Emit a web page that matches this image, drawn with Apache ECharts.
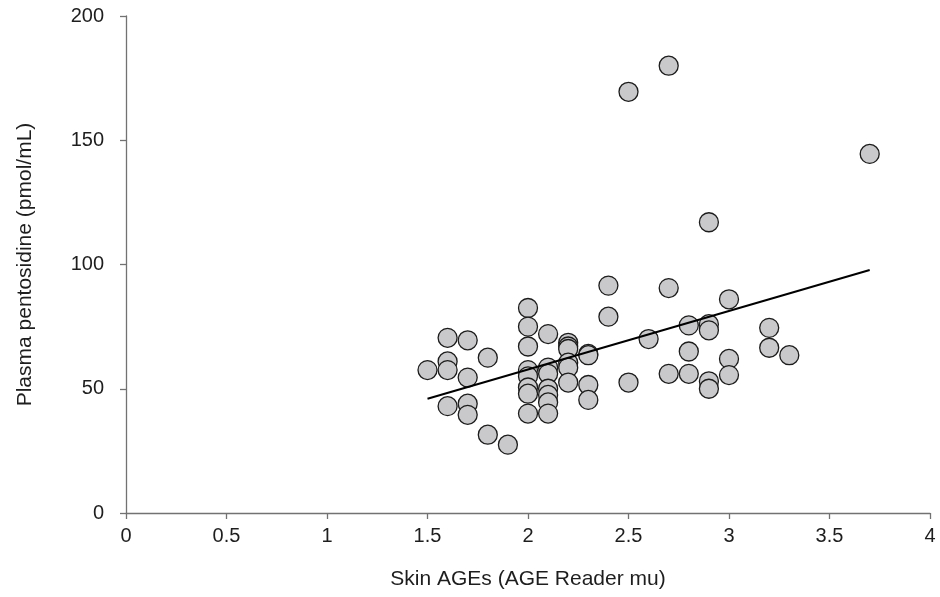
<!DOCTYPE html>
<html>
<head>
<meta charset="utf-8">
<script src="https://cdn.jsdelivr.net/npm/echarts@6/dist/echarts.min.js"></script>
<style>
  html, body { margin: 0; padding: 0; background: #fff; }
  #chart { width: 940px; height: 597px; }
</style>
</head>
<body>
<div id="chart"></div>
<script>
// Skin autofluorescence (AGE Reader units) for each subject
const skinAGEs = [
  1.5,
  1.6, 1.6, 1.6, 1.6,
  1.7, 1.7, 1.7, 1.7,
  1.8, 1.8,
  1.9,
  2.0, 2.0, 2.0, 2.0, 2.0, 2.0, 2.0, 2.0,
  2.1, 2.1, 2.1, 2.1, 2.1, 2.1, 2.1,
  2.2, 2.2, 2.2, 2.2, 2.2, 2.2,
  2.3, 2.3, 2.3, 2.3,
  2.4, 2.4,
  2.5, 2.5,
  2.6,
  2.7, 2.7, 2.7,
  2.8, 2.8, 2.8,
  2.9, 2.9, 2.9, 2.9, 2.9,
  3.0, 3.0, 3.0,
  3.2, 3.2,
  3.3,
  3.7
];

// Plasma pentosidine (pmol/mL) for the same subjects, in the same order
const pentosidine = [
  57.5,
  70.5, 61, 57.5, 43,
  69.5, 54.5, 44, 39.5,
  62.5, 31.5,
  27.5,
  82.5, 75, 67, 57.5, 55, 50.5, 48, 40,
  72, 58.5, 56, 50, 47.5, 44.5, 40,
  68.5, 67, 66, 60.5, 58.5, 52.5,
  64, 63.5, 51.5, 45.5,
  91.5, 79,
  169.5, 52.5,
  70,
  180, 90.5, 56,
  75.5, 65, 56,
  117, 76, 73.5, 53, 50,
  86, 62, 55.5,
  74.5, 66.5,
  63.5,
  144.5
];

// Least-squares fit line, drawn between its end points
const fitX = [1.5, 3.7];
const fitY = [46, 97.8];

const xTicks = [0, 0.5, 1, 1.5, 2, 2.5, 3, 3.5, 4];
const yTicks = [0, 50, 100, 150, 200];

const points = skinAGEs.map((x, i) => [x, pentosidine[i]]);
const fitLine = fitX.map((x, i) => [x, fitY[i]]);

const FONT = '"Liberation Sans", Arial, Helvetica, sans-serif';
const axisGray = '#727272';

const chart = echarts.init(document.getElementById('chart'), null, { renderer: 'canvas' });

chart.setOption({
  animation: false,
  backgroundColor: '#ffffff',
  grid: { left: 126, right: 10, top: 16, bottom: 84, containLabel: false },
  xAxis: {
    type: 'value',
    min: xTicks[0],
    max: xTicks[xTicks.length - 1],
    interval: xTicks[1] - xTicks[0],
    name: 'Skin AGEs (AGE Reader mu)',
    nameLocation: 'middle',
    nameGap: 56,
    nameTextStyle: { fontFamily: FONT, fontSize: 21, color: '#1e1e1e' },
    splitLine: { show: false },
    axisLine: { show: true, lineStyle: { color: axisGray, width: 1.3 } },
    axisTick: { show: true, length: 6, lineStyle: { color: axisGray, width: 1.3 } },
    axisLabel: {
      margin: 13,
      fontFamily: FONT, fontSize: 20, color: '#1e1e1e',
      formatter: v => String(v)
    }
  },
  yAxis: {
    type: 'value',
    min: yTicks[0],
    max: yTicks[yTicks.length - 1],
    interval: yTicks[1] - yTicks[0],
    name: 'Plasma pentosidine (pmol/mL)',
    nameLocation: 'middle',
    nameGap: 90,
    nameRotate: 90,
    nameTextStyle: { fontFamily: FONT, fontSize: 21, color: '#1e1e1e' },
    splitLine: { show: false },
    axisLine: { show: true, lineStyle: { color: axisGray, width: 1.3 } },
    axisTick: { show: true, length: 6, lineStyle: { color: axisGray, width: 1.3 } },
    axisLabel: {
      margin: 22,
      fontFamily: FONT, fontSize: 20, color: '#1e1e1e'
    }
  },
  series: [
    {
      type: 'scatter',
      data: points,
      symbol: 'circle',
      symbolSize: 19,
      itemStyle: { color: '#c9c8ca', borderColor: '#1c1c1c', borderWidth: 1.3, opacity: 1 },
      z: 2
    },
    {
      type: 'line',
      data: fitLine,
      showSymbol: false,
      symbol: 'none',
      lineStyle: { color: '#000000', width: 2 },
      z: 3
    }
  ]
});
</script>
</body>
</html>
